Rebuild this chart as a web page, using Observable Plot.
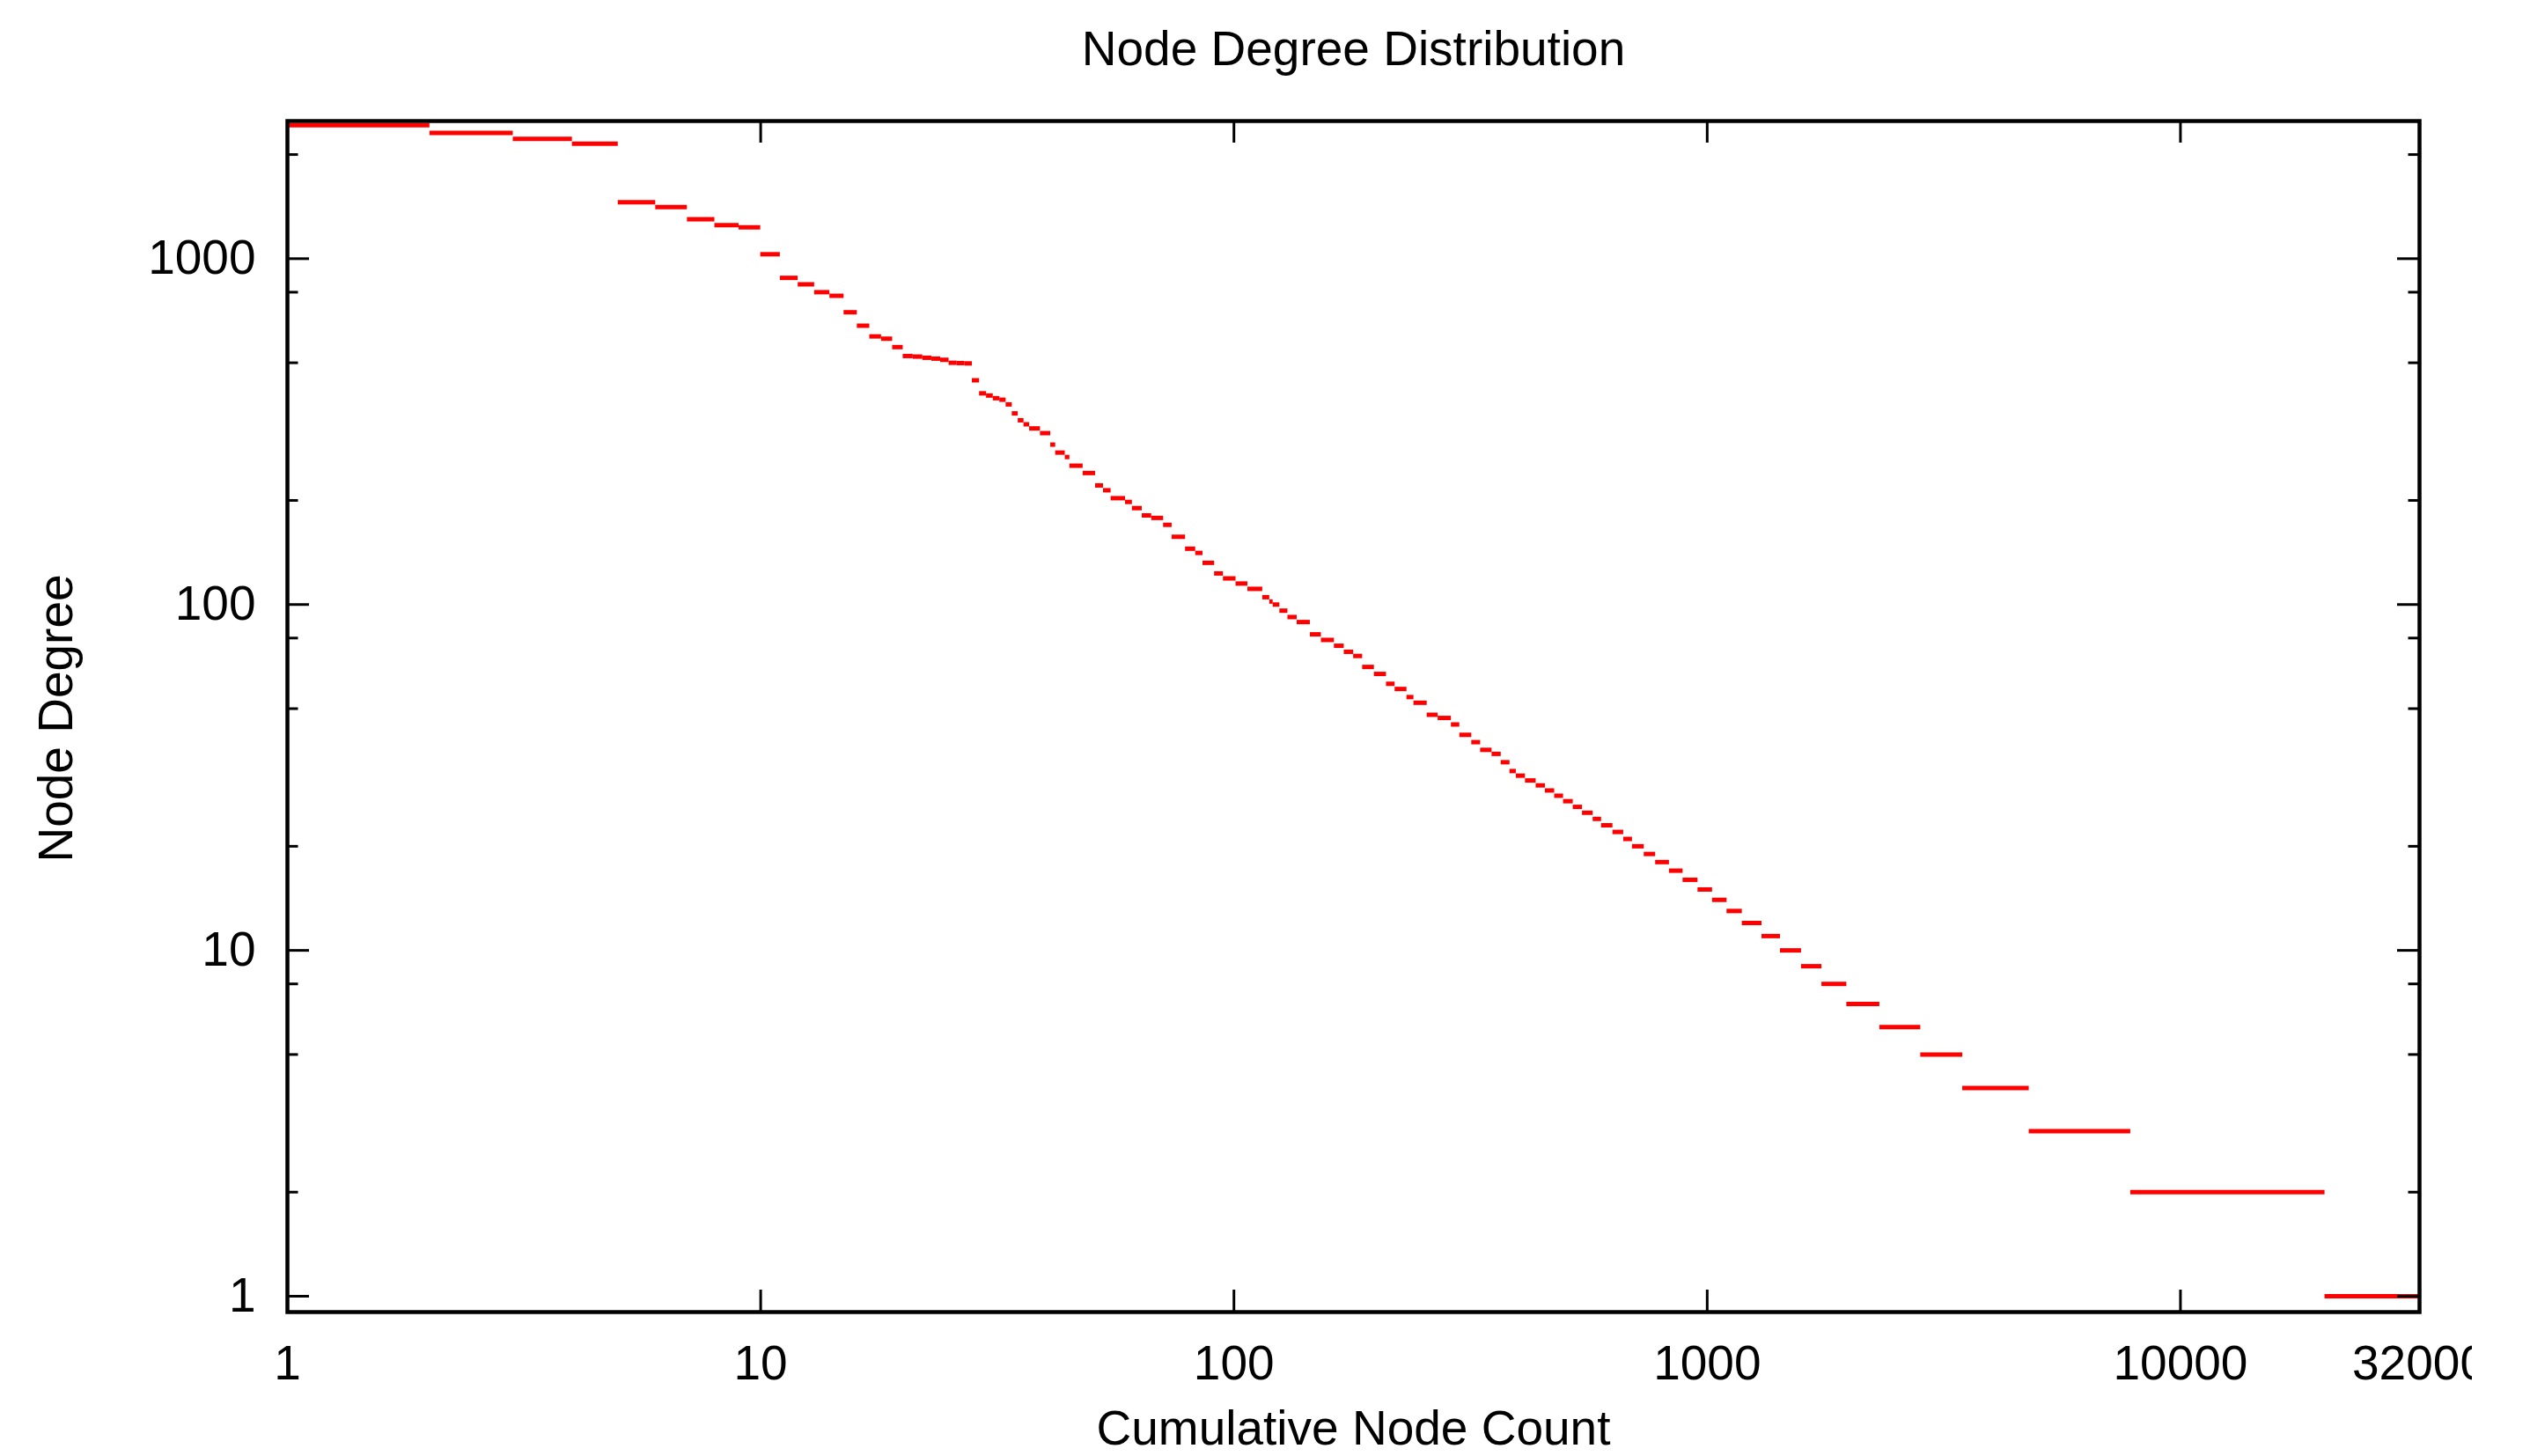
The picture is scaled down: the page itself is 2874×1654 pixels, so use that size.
<!DOCTYPE html>
<html>
<head>
<meta charset="utf-8">
<script src="https://cdn.jsdelivr.net/npm/d3@7"></script>
<script src="https://cdn.jsdelivr.net/npm/@observablehq/plot@0.6"></script>
<style>
  html, body { margin: 0; padding: 0; background: #fff; }
  #chart { width: 2874px; height: 1654px; overflow: hidden; background: #fff; }
</style>
</head>
<body>
<div id="chart"></div>
<script>
// ---- data ----
// Each level: nodes from levelStart[i] up to the next start share degree levelDegree[i]
const levelStart = [
  1, 2, 3, 4, 5, 6, 7, 8, 9, 10,
  11, 12, 13, 14, 15, 16, 17, 18, 19, 20,
  21, 22, 23, 24, 25, 26, 27, 28, 29, 30,
  31, 32, 33, 34, 35, 36, 37, 39, 41, 42,
  44, 45, 48, 51, 53, 55, 59, 61, 64, 67,
  71, 74, 79, 83, 86, 91, 95, 101, 107, 115,
  119, 121, 125, 130, 136, 145, 153, 163, 171, 179,
  187, 198, 210, 219, 232, 240, 256, 270, 288, 300,
  318, 332, 351, 367, 383, 395, 413, 435, 455, 476,
  497, 521, 545, 574, 598, 632, 666, 695, 736, 778,
  832, 889, 956, 1026, 1101, 1186, 1305, 1428, 1582, 1747,
  1972, 2316, 2826, 3466, 4790, 7850, 20200
];
const levelDegree = [
  2430, 2310, 2220, 2150, 1456, 1410, 1300, 1250, 1232, 1030,
  880, 843, 800, 781, 700, 640, 596, 587, 555, 523,
  521, 517, 514, 510, 500, 499, 498, 445, 408, 402,
  395, 391, 379, 357, 341, 332, 323, 313, 290, 275,
  267, 252, 240, 221, 214, 203, 198, 190, 181, 178,
  170, 157, 145, 141, 132, 123, 119, 115, 111, 105,
  102, 100, 96, 92, 89, 82, 79, 76, 73, 71,
  66, 63, 59, 57, 54, 52, 48, 47, 45, 42,
  40, 38, 37, 35, 33, 32, 31, 30, 29, 28,
  27, 26, 25, 24, 23, 22, 21, 20, 19, 18,
  17, 16, 15, 14, 13, 12, 11, 10, 9, 8,
  7, 6, 5, 4, 3, 2, 1
];
const totalNodes = 31900;

const xTicks = [1, 10, 100, 1000, 10000, 32000];
const xTickLabels = ["1", "10", "100", "1000", "10000", "32000"];
const yMajorTicks = [1, 10, 100, 1000];
const yMajorLabels = ["1", "10", "100", "1000"];
const yMinorTicks = [2, 5, 8, 20, 50, 80, 200, 500, 800, 2000];

const titleText = "Node Degree Distribution";
const xLabelText = "Cumulative Node Count";
const yLabelText = "Node Degree";

// ---- layout ----
const W = 2808, H = 1654;
const mL = 326, mT = 137, mR = W - 2748, mB = H - 1490;
const plotW = W - mL - mR, plotH = H - mT - mB;
const FONT = "'Liberation Sans', Arial, Helvetica, sans-serif";
const FS = 55;
const majorLen = 25, minorLen = 12.5;

const segments = levelStart.map((s, i) => ({
  x1: s,
  x2: i + 1 < levelStart.length ? levelStart[i + 1] : totalNodes,
  deg: levelDegree[i]
}));

const chart = Plot.plot({
  width: W,
  height: H,
  marginLeft: mL, marginTop: mT, marginRight: mR, marginBottom: mB,
  x: {type: "log", domain: [1, 32000], axis: null, label: null},
  y: {type: "log", domain: [0.9, 2500], axis: null, label: null},
  style: {fontFamily: FONT, fontSize: FS + "px", background: "white", color: "black", overflow: "hidden"},
  marks: [
    Plot.ruleY(segments, {x1: "x1", x2: "x2", y: "deg", stroke: "#ff0000", strokeWidth: 5}),
    // ticks (inward, gnuplot style)
    Plot.tickX(xTicks, {x: d => d, insetBottom: plotH - majorLen, stroke: "black", strokeWidth: 3}),
    Plot.tickX(xTicks, {x: d => d, insetTop: plotH - majorLen, stroke: "black", strokeWidth: 3}),
    Plot.tickY(yMajorTicks, {y: d => d, insetRight: plotW - majorLen, stroke: "black", strokeWidth: 3}),
    Plot.tickY(yMajorTicks, {y: d => d, insetLeft: plotW - majorLen, stroke: "black", strokeWidth: 3}),
    Plot.tickY(yMinorTicks, {y: d => d, insetRight: plotW - minorLen, stroke: "black", strokeWidth: 3}),
    Plot.tickY(yMinorTicks, {y: d => d, insetLeft: plotW - minorLen, stroke: "black", strokeWidth: 3}),
    Plot.frame({stroke: "black", strokeWidth: 4.5}),
    // tick labels
    Plot.axisX(xTicks, {anchor: "bottom", label: null, tickSize: 0, tickPadding: 37,
      tickFormat: d => xTickLabels[xTicks.indexOf(d)], fontSize: FS, fill: "black"}),
    Plot.axisY(yMajorTicks, {anchor: "left", label: null, tickSize: 0, tickPadding: 36,
      tickFormat: d => yMajorLabels[yMajorTicks.indexOf(d)], fontSize: FS, fill: "black"}),
    // titles
    Plot.text([titleText], {text: d => d, frameAnchor: "top", dy: -81, fontSize: FS, lineAnchor: "middle", fill: "black"}),
    Plot.text([xLabelText], {text: d => d, frameAnchor: "bottom", dy: 133, fontSize: FS, lineAnchor: "middle", fill: "black"}),
    Plot.text([yLabelText], {text: d => d, frameAnchor: "left", dx: -262, dy: 2, rotate: -90, textAnchor: "middle", fontSize: FS, lineAnchor: "middle", fill: "black"})
  ]
});
document.getElementById("chart").appendChild(chart);
</script>
</body>
</html>
